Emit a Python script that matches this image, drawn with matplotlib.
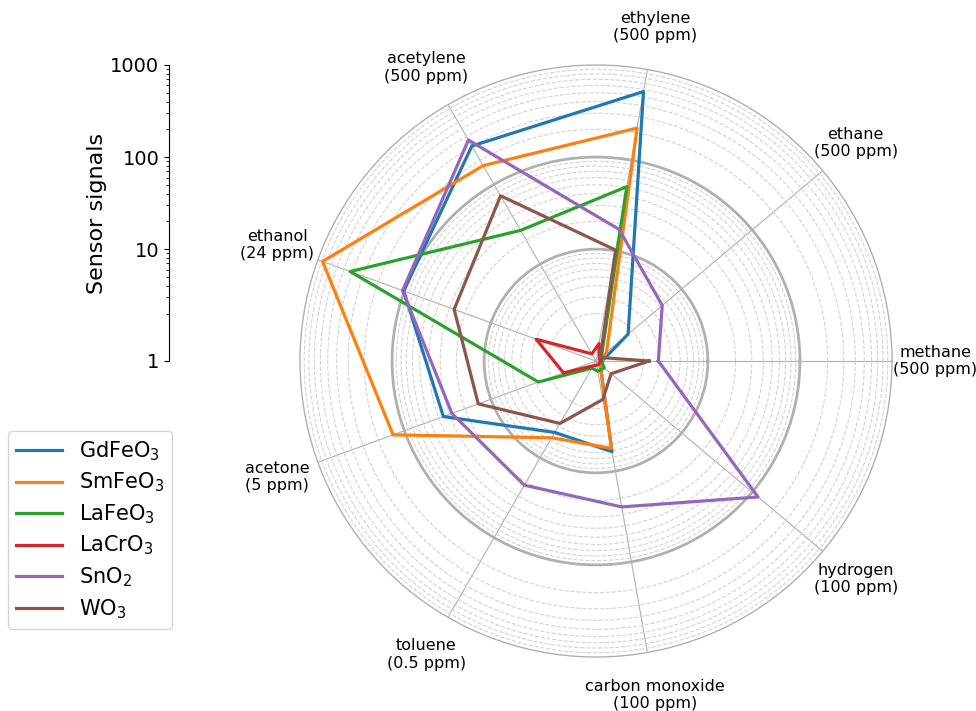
import numpy as np
import matplotlib.pyplot as plt
from matplotlib.ticker import FixedLocator, FixedFormatter, NullFormatter

# gases (counter-clockwise from the right)
gases = ['methane\n(500 ppm)', 'ethane\n(500 ppm)', 'ethylene\n(500 ppm)',
         'acetylene\n(500 ppm)', 'ethanol\n(24 ppm)', 'acetone\n(5 ppm)',
         'toluene\n(0.5 ppm)', 'carbon monoxide\n(100 ppm)', 'hydrogen\n(100 ppm)']

materials = ['GdFeO$_3$', 'SmFeO$_3$', 'LaFeO$_3$', 'LaCrO$_3$', 'SnO$_2$', 'WO$_3$']

# sensor signals
gdfeo3 = [0.71, 1.74, 571, 303, 102, 35.4, 4.8, 6.1, 0.70]
smfeo3 = [0.70, 0.86, 226, 172, 883, 135, 5.6, 5.6, 0.70]
lafeo3 = [0.70, 0.73, 51, 26.5, 423, 2.83, 0.75, 0.79, 0.80]
lacro3 = [0.68, 0.68, 0.95, 0.75, 3.0, 1.45, 0.70, 0.68, 0.68]
sno2 = [2.9, 5.3, 17.2, 360, 105, 28.2, 22, 24.8, 121]
wo3 = [2.3, 0.70, 10.2, 72, 26.6, 14, 3.7, 1.62, 1.0]

series = [gdfeo3, smfeo3, lafeo3, lacro3, sno2, wo3]

axis_ticks = [10, 100, 1000]
axis_labels = ['1', '10', '100', '1000']
minor_vals = [m * d for d in (1, 10, 100) for m in range(2, 10)]
r_floor = 0.61

fig = plt.figure(figsize=(9.76, 7.11), dpi=100)

ax = fig.add_axes([300 / 976, 54 / 711, 592 / 976, 592 / 711], projection='polar')
angles = np.arange(len(gases)) * 2 * np.pi / len(gases)

ax.set_rscale('log')
for name, vals in zip(materials, series):
    ax.plot(np.append(angles, angles[0]), np.append(vals, vals[0]), lw=2.3, label=name)
ax.set_rlim(r_floor, 1000)

ax.set_xticks(angles)
ax.set_xticklabels(gases, fontsize=11.5)
ax.tick_params(axis='x', pad=24, length=0)
ax.yaxis.set_major_locator(FixedLocator([10, 100]))
ax.yaxis.set_minor_locator(FixedLocator(minor_vals))
ax.yaxis.set_major_formatter(NullFormatter())
ax.yaxis.set_minor_formatter(NullFormatter())
ax.tick_params(axis='y', which='both', length=0)
ax.yaxis.grid(True, which='major', color='#b0b0b0', lw=2)
ax.yaxis.grid(True, which='minor', color='#d3d3d3', ls='--', lw=0.8)
ax.xaxis.grid(True, color='#b0b0b0', lw=0.8)
ax.spines['polar'].set_color('#b0b0b0')
ax.spines['polar'].set_linewidth(1)

# radial scale shown on the left
ax2 = fig.add_axes([169 / 976, 350 / 711, 0.01, 296 / 711])
ax2.set_yscale('log')
ax2.set_ylim(r_floor, 1000)
ax2.yaxis.set_major_locator(FixedLocator([r_floor] + axis_ticks))
ax2.yaxis.set_major_formatter(FixedFormatter(axis_labels))
ax2.yaxis.set_minor_locator(FixedLocator(minor_vals))
ax2.yaxis.set_minor_formatter(NullFormatter())
ax2.tick_params(axis='y', labelsize=14)
ax2.set_xticks([])
for s in ['top', 'right', 'bottom']:
    ax2.spines[s].set_visible(False)
ax2.patch.set_visible(False)
ax2.set_ylabel('Sensor signals', fontsize=16, labelpad=2)

handles, labels = ax.get_legend_handles_labels()
fig.legend(handles, labels, loc='upper left', bbox_to_anchor=(8 / 976, 1 - 431 / 711),
           fontsize=15, borderaxespad=0, handlelength=2.2, labelspacing=0.38)

plt.savefig('out.png', dpi=100)
